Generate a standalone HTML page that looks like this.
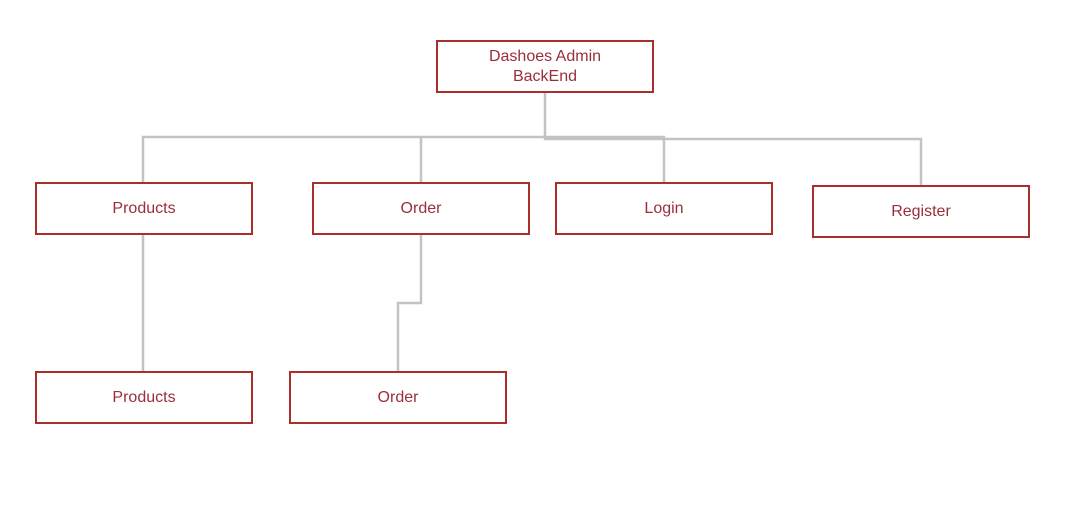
<!DOCTYPE html>
<html><head><style>
body{margin:0;background:#fff;width:1065px;height:529px;overflow:hidden;position:relative;font-family:"Liberation Sans",sans-serif}
.b{position:absolute;box-sizing:border-box;border:2.5px solid #a9302a;display:flex;align-items:center;justify-content:center;text-align:center;color:#9a2e3a;font-size:16px;line-height:20px;background:#fff}
svg{position:absolute;left:0;top:0}
</style></head><body>
<svg width="1065" height="529"><g stroke="#c3c3c3" stroke-width="2.5" fill="none">
<path d="M545 92V137M143 183V137H664V183M421 137V183"/>
<path d="M545 137V139H921V185"/>
<path d="M143 235V372"/>
<path d="M421 235V303H398V372"/>
</g></svg>
<div class="b" style="left:436px;top:40px;width:218px;height:53px">Dashoes Admin<br>BackEnd</div>
<div class="b" style="left:35px;top:182px;width:218px;height:53px">Products</div>
<div class="b" style="left:312px;top:182px;width:218px;height:53px">Order</div>
<div class="b" style="left:555px;top:182px;width:218px;height:53px">Login</div>
<div class="b" style="left:812px;top:185px;width:218px;height:53px">Register</div>
<div class="b" style="left:35px;top:371px;width:218px;height:53px">Products</div>
<div class="b" style="left:289px;top:371px;width:218px;height:53px">Order</div>
</body></html>
